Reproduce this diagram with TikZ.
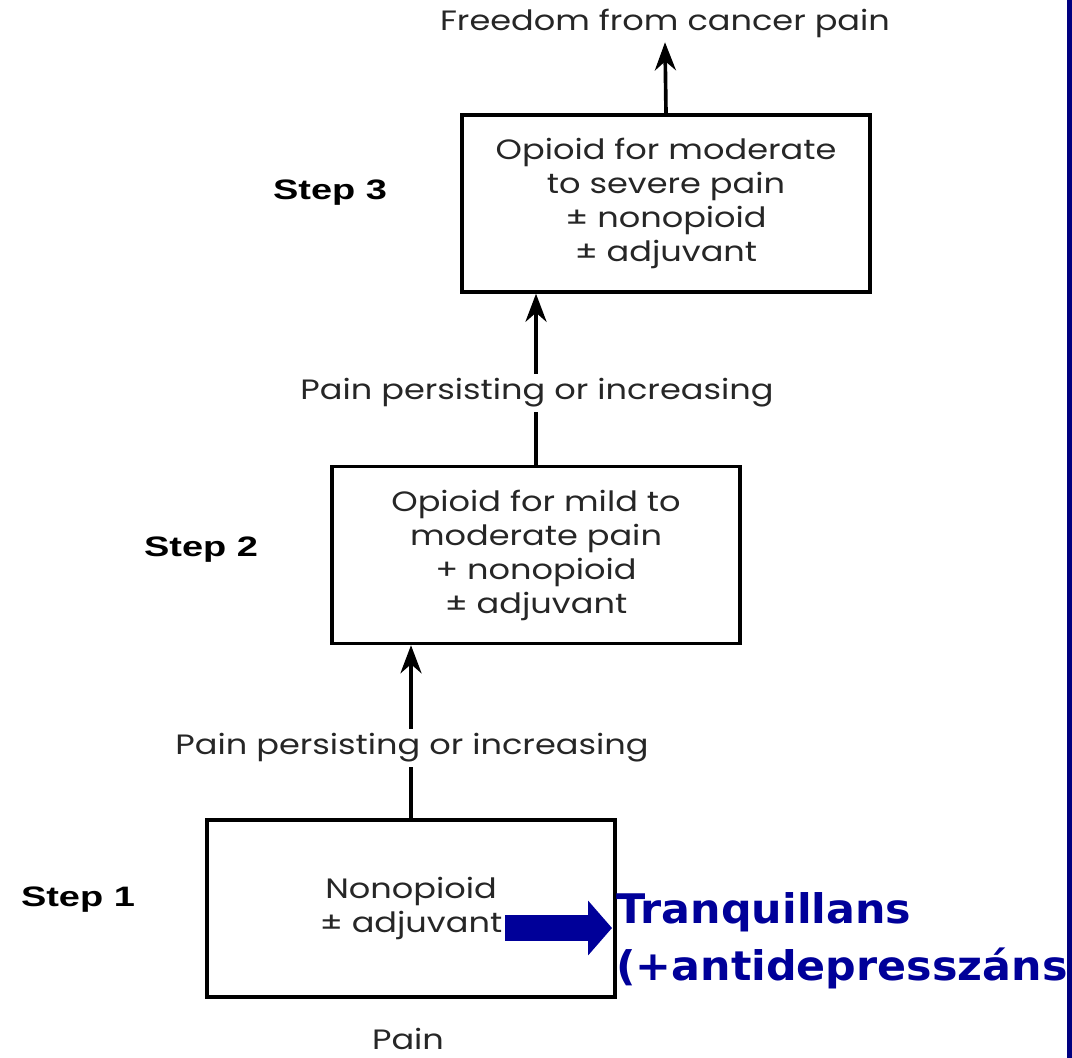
\documentclass[tikz,border=0pt]{standalone}
\usepackage{fontspec}
\setmainfont{Poppins}[FakeStretch=1.2]
\newfontfamily\stepfont{Liberation Sans}[FakeStretch=1.35]
\newfontfamily\bluefont{DejaVu Sans}[FakeStretch=1.05]
\usetikzlibrary{arrows.meta}
\definecolor{hunblue}{RGB}{0,0,153}
\definecolor{barblue}{RGB}{0,0,128}

\begin{document}
\begin{tikzpicture}[x=0.025cm,y=-0.025cm,
    >={Stealth[length=20pt,width=15pt]},
    conn/.style={line width=2.6pt},
    txt/.style={text=black!85,font=\fontsize{19.9}{24.2}\selectfont,align=center},
    box/.style={txt,draw,line width=2.4pt,minimum width=10.2cm,minimum height=4.425cm},
    steplab/.style={font=\stepfont\bfseries\fontsize{20}{24}\selectfont},
    bluetxt/.style={text=hunblue,font=\bluefont\bfseries\fontsize{29}{40.5}\selectfont,align=left,inner sep=0pt}]
    \useasboundingbox (0,0) rectangle (1072,1058);
    % the three steps
    \node[box] (s3) at (666,203.5) {Opioid for moderate\\to severe pain\\± nonopioid\\± adjuvant};
    \node[box] (s2) at (536,555) {Opioid for mild to\\moderate pain\\+ nonopioid\\± adjuvant};
    \node[box] (s1) at (411,908.5) {Nonopioid\\± adjuvant};
    \node[steplab] (st3) at (330,193) {Step 3};
    \node[steplab] (st2) at (201,550) {Step 2};
    \node[steplab] (st1) at (78,900) {Step 1};
    \node[txt] (free) at (665,23) {Freedom from cancer pain};
    \node[txt] (lab2) at (537,393) {Pain persisting or increasing};
    \node[txt] (lab1) at (412,748) {Pain persisting or increasing};
    \node[txt,inner sep=1pt] (pain) at (408,1039) {Pain};
    \draw[conn,->] (s3.north) -- (free.south);
    \draw[conn] (s2.north) -- (s2.north |- lab2.south);
    \draw[conn,->] (s2.north |- lab2.north) -- (s2.north |- s3.south);
    \draw[conn] (s1.north) -- (s1.north |- lab1.south);
    \draw[conn,->] (s1.north |- lab1.north) -- (s1.north |- s2.south);
    % extra drugs
    \coordinate (bs) at (505,928);
    \coordinate (be) at (612,928);
    \node[bluetxt,anchor=west] (tran) at (616,941) {Tranquillans\\(+antidepresszáns};
    \draw[hunblue,line width=19pt,-{Triangle[length=17pt,width=38pt]}] (bs) -- (be);
    \fill[barblue] (1067,0) rectangle (1072,1058);
\end{tikzpicture}
\end{document}
